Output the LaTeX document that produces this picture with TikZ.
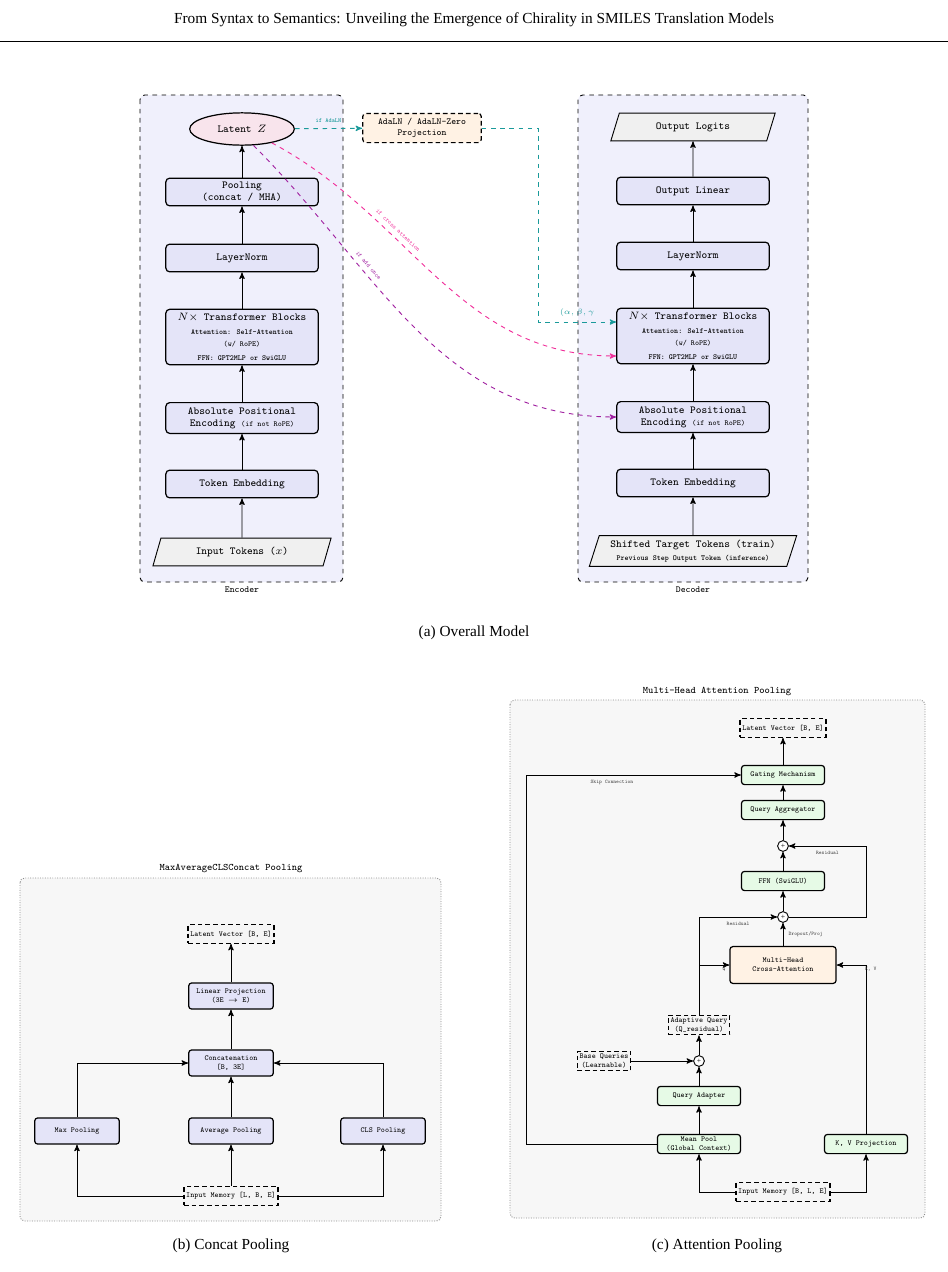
\documentclass[tikz,border=0pt]{standalone}
\usepackage{fontspec}
\setmainfont{Liberation Serif}
\usetikzlibrary{arrows,positioning,shapes.geometric}
\definecolor{encfill}{HTML}{F0F0FC}
\definecolor{blkfill}{HTML}{E4E4F8}
\definecolor{latfill}{HTML}{F8E4EC}
\definecolor{adafill}{HTML}{FFF2E4}
\definecolor{grnfill}{HTML}{E6FAE6}
\definecolor{panfill}{HTML}{F7F7F7}
\definecolor{tealc}{HTML}{1A9A9A}
\definecolor{pinkc}{HTML}{F0309A}
\definecolor{purpc}{HTML}{A020A0}
\tikzset{
  blk/.style={draw, thick, rounded corners=2.5pt, fill=blkfill, font=\ttfamily\fontsize{7}{8}\selectfont, align=center, minimum width=99bp, minimum height=18bp, inner sep=1pt},
  io/.style={draw, trapezium, trapezium left angle=70, trapezium right angle=110, trapezium stretches=true, fill=black!6, font=\ttfamily\fontsize{7}{8}\selectfont, align=center, minimum height=18bp, inner sep=1pt},
  cont/.style={draw, dashed, rounded corners=3pt, fill=encfill},
  pan/.style={draw=black!45, densely dotted, rounded corners=3pt, fill=panfill},
  gblk/.style={draw, thick, rounded corners=2pt, fill=grnfill, font=\ttfamily\fontsize{5}{6}\selectfont, align=center, minimum width=54bp, minimum height=12.5bp, inner sep=1pt},
  dbox/.style={draw, thick, densely dashed, fill=black!4, font=\ttfamily\fontsize{5}{6}\selectfont, align=center, minimum height=12bp, inner sep=1.5pt},
  pbox/.style={draw, thick, rounded corners=2pt, fill=blkfill, font=\ttfamily\fontsize{5}{6}\selectfont, align=center, minimum width=55bp, minimum height=17bp, inner sep=1pt},
  sumc/.style={draw, circle, fill=white, inner sep=0pt, minimum size=7bp, font=\fontsize{5}{5}\selectfont},
  tiny/.style={font=\ttfamily\fontsize{3.5}{4}\selectfont, text=black!75},
  captxt/.style={font=\fontsize{10}{12}\selectfont}
}
\begin{document}
\begin{tikzpicture}[x=0.65bp, y=-0.65bp, >=stealth', semithick]
  \useasboundingbox (0,0) rectangle (948,1272);

  % header
  \node[captxt] (hdr) at (474,20) {From Syntax to Semantics: Unveiling the Emergence of Chirality in SMILES Translation Models};
  \draw[thin] (0,41) -- (948,41);

  % (a) overall model
  \draw[cont] (140,95) rectangle (343,582);
  \draw[cont] (578,95) rectangle (808,582);
  \node[font=\ttfamily\fontsize{6}{7}\selectfont] (enclab) at (242,590) {Encoder};
  \node[font=\ttfamily\fontsize{6}{7}\selectfont] (declab) at (693,590) {Decoder};

  \node[draw, thick, ellipse, fill=latfill, minimum width=68bp, minimum height=21bp, inner sep=0pt, font=\ttfamily\fontsize{7}{8}\selectfont] (lz) at (242,129) {Latent $Z$};
  \node[blk] (epool) at (242,192) {Pooling\\(concat / MHA)};
  \node[blk] (eln) at (242,258) {LayerNorm};
  \node[blk, minimum height=36bp] (etf) at (242,337) {$N\times$ Transformer Blocks\\[1pt]{\fontsize{5}{6}\selectfont\bfseries Attention: Self-Attention}\\{\fontsize{5}{6}\selectfont (w/ RoPE)}\\[1pt]{\fontsize{5}{6}\selectfont\bfseries FFN: GPT2MLP or SwiGLU}};
  \node[blk, minimum height=20bp] (epos) at (242,418) {Absolute Positional\\Encoding {\fontsize{5}{6}\selectfont(if not RoPE)}};
  \node[blk] (eemb) at (242,484) {Token Embedding};
  \node[io, minimum width=116bp] (ein) at (242,552) {Input Tokens ($x$)};
  \foreach \a/\b in {ein/eemb, eemb/epos, epos/etf, etf/eln, eln/epool, epool/lz}
    \draw[->] (\a) -- (\b);

  \node[io, minimum width=107bp] (dout) at (693,127) {Output Logits};
  \node[blk] (dlin) at (693,191) {Output Linear};
  \node[blk] (dln) at (693,256) {LayerNorm};
  \node[blk, minimum height=36bp] (dtf) at (693,336) {$N\times$ Transformer Blocks\\[1pt]{\fontsize{5}{6}\selectfont\bfseries Attention: Self-Attention}\\{\fontsize{5}{6}\selectfont (w/ RoPE)}\\[1pt]{\fontsize{5}{6}\selectfont\bfseries FFN: GPT2MLP or SwiGLU}};
  \node[blk, minimum height=20bp] (dpos) at (693,417) {Absolute Positional\\Encoding {\fontsize{5}{6}\selectfont(if not RoPE)}};
  \node[blk] (demb) at (693,483) {Token Embedding};
  \node[io, minimum width=135bp, minimum height=20bp] (din) at (693,551) {Shifted Target Tokens (train)\\{\fontsize{5}{6}\selectfont\bfseries Previous Step Output Token (inference)}};
  \foreach \a/\b in {din/demb, demb/dpos, dpos/dtf, dtf/dln, dln/dlin, dlin/dout}
    \draw[->] (\a) -- (\b);

  \node[draw, thick, densely dashed, rounded corners=2pt, fill=adafill, align=center, minimum width=77bp, minimum height=19bp, inner sep=1pt, font=\ttfamily\fontsize{6}{7}\selectfont] (ada) at (422,128) {AdaLN / AdaLN-Zero\\Projection};
  \draw[->, tealc, dashed] (lz) -- node[above, font=\ttfamily\bfseries\fontsize{4}{4}\selectfont, pos=0.5] {if AdaLN} (ada);
  \draw[->, tealc, dashed] (ada.east) -- (538,128) |- node[pos=0.75, above, font=\fontsize{4.5}{5}\selectfont] {$(\alpha,\beta,\gamma$} (dtf.west |- 0,322);
  \draw[->, pinkc, dashed] (lz.-25) to[out=-28, in=180] node[pos=0.35, sloped, above, font=\ttfamily\fontsize{4}{4}\selectfont] {if cross attention} (dtf.west |- 0,356);
  \draw[->, purpc, dashed] (lz.-55) to[out=-45, in=180] node[pos=0.33, sloped, above, font=\ttfamily\fontsize{4}{4}\selectfont] {if add once} (dpos.west);

  \node[captxt] (capa) at (474,633) {(a) Overall Model};

  % (b) concat pooling
  \draw[pan] (20,878) rectangle (441,1221);
  \node[font=\ttfamily\fontsize{6.5}{7}\selectfont] (btitle) at (231,869) {MaxAverageCLSConcat Pooling};
  \node[dbox] (blat) at (231,934) {Latent Vector [B, E]};
  \node[pbox] (blin) at (231,996) {Linear Projection\\(3E $\rightarrow$ E)};
  \node[pbox] (bcat) at (231,1063) {Concatenation\\{[B, 3E]}};
  \node[pbox] (bmax) at (77,1131) {Max Pooling};
  \node[pbox] (bavg) at (231,1131) {Average Pooling};
  \node[pbox] (bcls) at (383,1131) {CLS Pooling};
  \node[dbox] (bin) at (231,1196) {Input Memory [L, B, E]};
  \draw[->] (bin) -- (bavg);
  \draw[->] (bin.west) -| (bmax);
  \draw[->] (bin.east) -| (bcls);
  \draw[->] (bavg) -- (bcat);
  \draw[->] (bmax) |- (bcat.west);
  \draw[->] (bcls) |- (bcat.east);
  \draw[->] (bcat) -- (blin);
  \draw[->] (blin) -- (blat);
  \node[captxt] (capb) at (231,1246) {(b) Concat Pooling};

  % (c) attention pooling
  \draw[pan] (510,700) rectangle (925,1218);
  \node[font=\ttfamily\fontsize{6.5}{7}\selectfont] (ctitle) at (717,692) {Multi-Head Attention Pooling};
  \node[dbox] (clat) at (783,728) {Latent Vector [B, E]};
  \node[gblk] (cgate) at (783,775) {Gating Mechanism};
  \node[gblk] (cagg) at (783,810) {Query Aggregator};
  \node[sumc] (csum2) at (783,846) {+};
  \node[gblk] (cffn) at (783,881) {FFN (SwiGLU)};
  \node[sumc] (csum1) at (783,917) {+};
  \node[gblk, fill=adafill, minimum width=69bp, minimum height=24bp] (cmha) at (783,965) {Multi-Head\\Cross-Attention};
  \node[dbox] (caq) at (699,1025) {Adaptive Query\\(Q\_residual)};
  \node[sumc] (csum0) at (699,1061) {+};
  \node[dbox] (cbq) at (604,1061) {Base Queries\\(Learnable)};
  \node[gblk] (cqad) at (699,1096) {Query Adapter};
  \node[gblk] (cmean) at (699,1144) {Mean Pool\\(Global Context)};
  \node[gblk] (ckv) at (866,1144) {K, V Projection};
  \node[dbox] (cin) at (783,1192) {Input Memory [B, L, E]};
  \draw[->] (cin.west) -| (cmean);
  \draw[->] (cin.east) -| (ckv);
  \draw[->] (ckv) |- node[pos=0.55, below right, tiny, inner sep=1pt] {K, V} (cmha.east);
  \draw[->] (cmean) -- (cqad);
  \draw[->] (cqad) -- (csum0);
  \draw[->] (cbq) -- (csum0);
  \draw[->] (csum0) -- (caq);
  \draw[->] (caq) |- node[pos=0.97, below left, tiny, inner sep=1pt] {Q} (cmha.west);
  \draw[->] (caq) |- node[pos=0.75, below, tiny] {Residual} (csum1.west);
  \draw[->] (cmha) -- node[right, tiny] {Dropout/Proj} (csum1);
  \draw[->] (csum1) -- (cffn);
  \draw[->] (cffn) -- (csum2);
  \draw[->] (csum1.east) -- (866,917) |- node[pos=0.75, below, tiny] {Residual} (csum2.east);
  \draw[->] (csum2) -- (cagg);
  \draw[->] (cagg) -- (cgate);
  \draw[->] (cgate) -- (clat);
  \draw[->] (cmean.west) -- (526,1144) |- node[pos=0.7, below, tiny] {Skip Connection} (cgate.west);
  \node[captxt] (capc) at (717,1246) {(c) Attention Pooling};
\end{tikzpicture}
\end{document}
